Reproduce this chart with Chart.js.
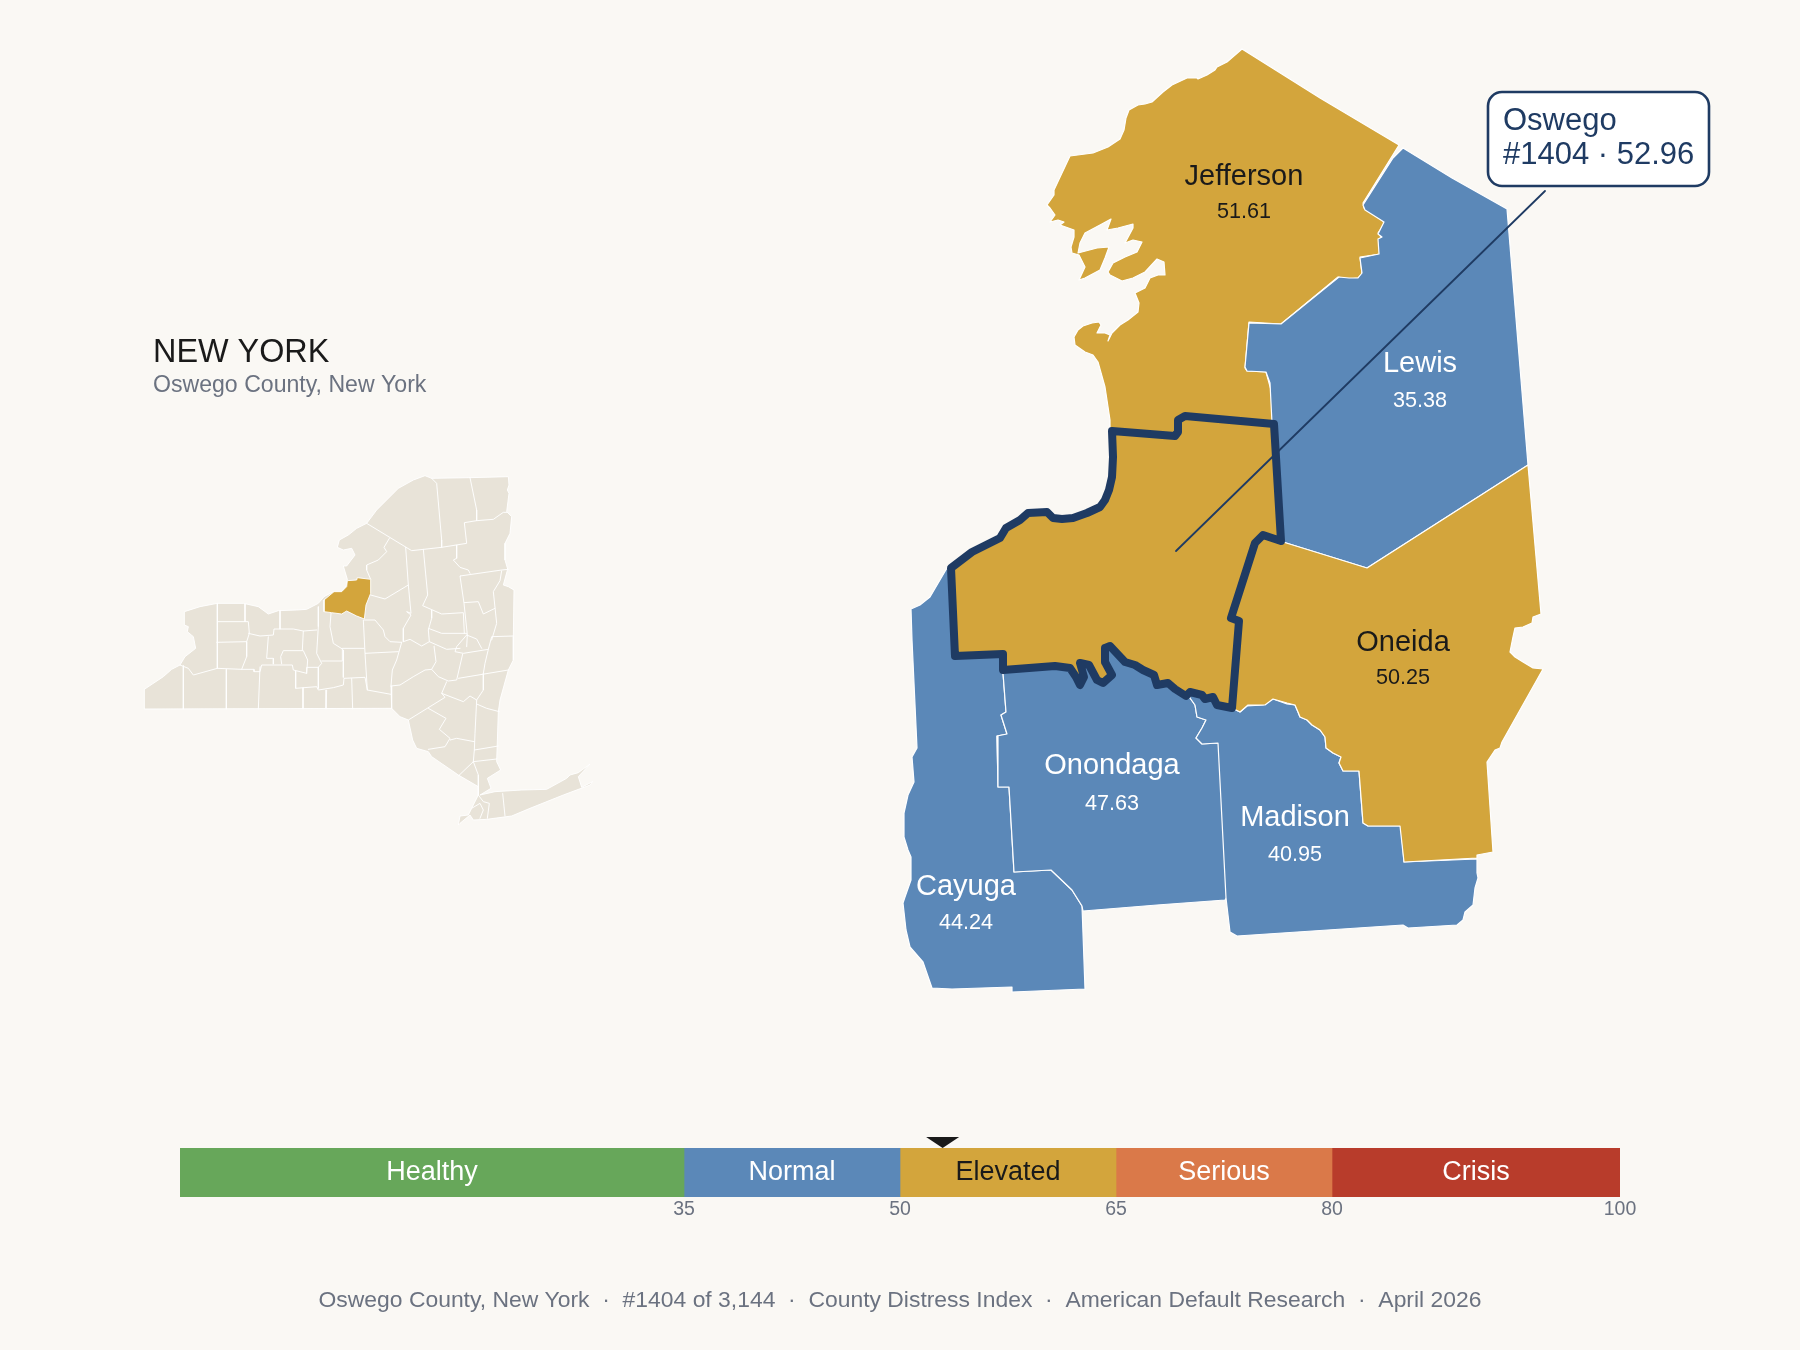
<!DOCTYPE html>
<html><head><meta charset="utf-8"><title>Oswego County, New York</title>
<script src="https://cdn.jsdelivr.net/npm/chart.js@4/dist/chart.umd.min.js"></script>
<style>
html,body{margin:0;padding:0;background:#faf8f4;width:1800px;height:1350px;overflow:hidden}
canvas{position:absolute;left:0}
#map{top:0}
#bar{top:1100px}
</style></head><body>
<canvas id="map" width="1800" height="1350"></canvas>
<canvas id="bar" width="1800" height="140"></canvas>
<script>
// ---------- values ----------
const countyNames = ['Jefferson','Lewis','Oneida','Madison','Onondaga','Cayuga'];
const countyScores = ['51.61','35.38','50.25','40.95','47.63','44.24'];
const focusName = 'Oswego';
const focusRank = '#1404';
const focusScore = 52.96;
const bandNames = ['Healthy','Normal','Elevated','Serious','Crisis'];
const bandWidths = [35,15,15,15,20];
const bandTicks = [35,50,65,80,100];
const titleText = 'NEW YORK';
const subtitleText = 'Oswego County, New York';
const footerText = 'Oswego County, New York  ·  #1404 of 3,144  ·  County Distress Index  ·  American Default Research  ·  April 2026';

// ---------- county outlines (map units) ----------
const jeffersonShape = [[1242,49],[1320,98],[1399,145],[1363,203],[1364,208],[1383,221],[1384,224],[1378,233],[1381,237],[1379,243],[1380,254],[1360,257],[1362,274],[1358,278],[1348,279],[1338,277],[1281,324],[1249,322],[1245,368],[1247,371],[1266,372],[1271,390],[1274,424],[1270,480],[1110,480],[1110,420],[1105,387],[1098,362],[1093,355],[1085,352],[1075,345],[1074,337],[1078,330],[1083,326],[1092,323],[1099,322],[1101,325],[1097,333],[1105,333],[1110,335],[1108,341],[1112,333],[1120,325],[1128,320],[1138,312],[1139,303],[1135,293],[1145,288],[1150,278],[1158,275],[1165,275],[1164,262],[1157,259],[1145,272],[1133,278],[1122,281],[1110,275],[1108,272],[1113,263],[1125,257],[1137,252],[1142,242],[1133,240],[1125,243],[1133,228],[1133,224],[1118,228],[1107,230],[1111,219],[1100,225],[1085,233],[1080,243],[1078,253],[1097,248],[1109,247],[1105,258],[1100,270],[1085,278],[1079,280],[1085,267],[1079,255],[1072,253],[1071,247],[1074,237],[1074,230],[1060,225],[1064,222],[1058,220],[1050,222],[1055,215],[1050,208],[1047,205],[1054,195],[1054,190],[1062,173],[1070,156],[1093,153],[1108,147],[1120,139],[1124,130],[1126,118],[1129,110],[1138,105],[1145,104],[1152,102],[1163,92],[1172,85],[1187,78],[1197,78],[1198,79],[1207,75],[1215,70],[1217,67],[1227,62],[1242,49]];
const lewisShape = [[1403,148],[1452,178],[1507,209],[1528,465],[1367,568],[1283,542],[1272,423],[1270,383],[1266,372],[1247,371],[1245,367],[1249,323],[1281,324],[1339,277],[1349,278],[1358,278],[1362,273],[1360,258],[1379,254],[1378,239],[1382,237],[1378,234],[1384,222],[1365,210],[1363,205],[1393,158],[1403,148]];
const oneidaShape = [[1231,618],[1255,543],[1263,535],[1283,542],[1367,568],[1528,465],[1541,614],[1533,617],[1532,623],[1523,627],[1515,628],[1513,637],[1510,652],[1515,657],[1523,662],[1533,668],[1543,669],[1502,742],[1500,748],[1495,750],[1487,762],[1493,852],[1477,855],[1477,858],[1404,862],[1400,826],[1368,826],[1363,823],[1359,771],[1343,771],[1339,763],[1341,757],[1333,753],[1326,748],[1325,737],[1320,730],[1312,725],[1307,720],[1300,717],[1298,712],[1295,705],[1287,703],[1273,699],[1265,705],[1248,705],[1240,712],[1232,708],[1231,618]];
const madisonShape = [[1232,690],[1232,708],[1240,712],[1247,706],[1263,705],[1273,699],[1287,704],[1295,705],[1298,712],[1300,717],[1307,720],[1312,725],[1320,730],[1325,737],[1326,748],[1333,753],[1341,757],[1339,763],[1343,771],[1359,771],[1363,823],[1368,826],[1401,826],[1404,862],[1477,859],[1477,873],[1478,878],[1475,888],[1473,905],[1465,912],[1463,920],[1457,925],[1408,928],[1403,925],[1237,936],[1230,932],[1226,898],[1218,743],[1202,744],[1196,738],[1202,728],[1206,720],[1197,717],[1195,705],[1190,698],[1190,680],[1232,690]];
const onondagaShape = [[1003,660],[1003,673],[1006,712],[1001,715],[1007,734],[997,736],[998,787],[1009,787],[1014,872],[1051,870],[1072,890],[1082,906],[1083,911],[1157,905],[1225,900],[1227,897],[1219,743],[1202,744],[1196,738],[1202,728],[1206,720],[1197,717],[1195,705],[1190,698],[1175,680],[1110,650],[1003,660]];
const cayugaShape = [[960,600],[1003,660],[1003,673],[1006,712],[1001,715],[1007,734],[997,736],[998,787],[1009,787],[1014,872],[1051,870],[1072,890],[1082,906],[1085,989],[1012,992],[1012,987],[952,989],[932,988],[923,962],[910,947],[906,930],[903,903],[905,897],[911,880],[911,857],[908,850],[904,837],[904,813],[908,795],[914,782],[912,757],[917,748],[912,640],[911,609],[920,605],[930,597],[947,568],[960,600]];
const oswegoShape = [[1112,431],[1175,436],[1178,432],[1178,420],[1185,416],[1274,424],[1281,541],[1263,535],[1255,543],[1231,618],[1239,621],[1232,708],[1217,705],[1213,697],[1205,699],[1202,695],[1190,692],[1186,696],[1175,689],[1168,683],[1157,685],[1154,675],[1143,670],[1135,665],[1125,662],[1110,646],[1105,648],[1105,662],[1112,675],[1103,683],[1097,680],[1089,665],[1080,663],[1084,677],[1080,685],[1076,677],[1070,668],[1055,666],[1003,670],[1003,654],[955,656],[951,568],[972,552],[1000,538],[1006,528],[1020,520],[1028,513],[1047,512],[1053,518],[1062,519],[1073,518],[1087,513],[1100,507],[1105,500],[1109,490],[1112,477],[1113,457],[1112,431]];
const leaderLine = [[1176,551],[1545,191]];

// ---------- locator map (inset units) ----------
const stateShape = [[43,688],[100,650],[125,628],[150,615],[165,590],[197,565],[190,530],[172,515],[175,500],[163,495],[163,455],[210,440],[262,430],[340,430],[385,440],[415,462],[445,452],[500,450],[530,448],[565,430],[582,410],[610,395],[635,395],[650,375],[652,358],[640,318],[650,318],[675,285],[665,265],[640,270],[622,262],[628,240],[655,225],[680,205],[710,190],[740,150],[805,85],[850,60],[885,47],[905,55],[1020,53],[1135,50],[1137,75],[1132,90],[1137,100],[1130,155],[1145,170],[1140,220],[1125,250],[1125,300],[1133,327],[1120,375],[1135,380],[1152,390],[1150,530],[1150,600],[1135,630],[1110,720],[1105,755],[1100,905],[1112,930],[1072,955],[1083,985],[1050,1005],[1095,995],[1175,990],[1250,988],[1310,955],[1320,945],[1345,938],[1380,912],[1345,950],[1355,982],[1388,965],[1380,975],[1300,1005],[1200,1045],[1145,1068],[1070,1078],[1030,1080],[1020,1065],[990,1090],[985,1095],[990,1068],[1015,1065],[1025,1045],[1045,1005],[1045,980],[985,945],[905,890],[895,875],[860,865],[848,840],[835,780],[810,770],[785,745],[43,747],[43,688]];
const stateFocusShape = [[582,420],[582,455],[605,458],[635,462],[650,453],[680,468],[703,477],[708,435],[722,400],[722,358],[682,353],[680,360],[652,362],[650,380],[635,395],[612,395],[582,420]];
const stateCountyLines = [
[[160,617],[160,747]],[[289,628],[289,747]],[[390,620],[385,747]],[[519,683],[519,747]],[[590,690],[588,747]],[[665,655],[668,747]],
[[150,615],[175,625],[190,645],[262,625],[335,628],[372,628],[372,635],[390,635],[395,615],[487,615],[490,630],[530,640],[530,622],[565,622]],
[[497,632],[497,685],[560,680],[565,690],[610,683],[640,675],[642,655],[705,652],[712,690],[783,703]],
[[262,430],[262,625]],[[262,485],[355,485],[358,520],[350,545],[260,547]],[[345,432],[345,485]],
[[355,520],[390,528],[430,525],[432,507],[490,507],[520,513],[560,510]],[[350,545],[350,590],[335,628]],[[450,452],[450,507]],
[[415,530],[410,595],[430,595],[430,612]],[[455,612],[452,590],[460,572],[520,572],[533,600],[530,640]],[[520,513],[517,570]],
[[565,440],[565,500],[560,580],[575,610],[565,622],[565,685]],[[575,603],[637,603],[637,565],[702,565]],[[637,567],[610,550],[600,500],[603,460]],[[640,570],[640,652]],
[[700,480],[705,580],[712,690]],[[705,580],[805,575]],[[783,678],[785,745]],
[[703,480],[735,480],[760,510],[765,530],[780,545],[815,547]],[[815,547],[800,600],[787,630],[783,678]],
[[722,405],[765,417],[835,375],[827,262]],[[835,375],[843,460],[830,455],[843,465],[820,505],[820,545]],
[[710,190],[845,272],[935,262],[1010,250],[1003,188],[1040,182],[1090,178],[1120,157],[1130,157]],
[[905,55],[920,70],[935,240],[935,262]],[[1020,53],[1040,150],[1040,182]],
[[778,235],[762,262],[770,275],[745,300],[710,315],[710,330],[722,358]],
[[880,268],[893,405],[878,437],[935,462],[1000,458],[1003,520]],[[980,255],[980,295],[970,300],[990,322],[1015,330],[1020,340]],
[[990,348],[1115,330],[1135,328]],[[990,348],[1002,430],[1012,525],[1010,560]],[[1002,428],[1045,425],[1060,462],[1095,445]],
[[1115,332],[1110,362],[1090,395],[1100,490],[1085,540]],[[905,450],[905,475],[895,510],[898,545],[875,558],[840,538],[820,545]],
[[895,505],[935,520],[1010,520]],[[898,545],[950,568],[990,565]],[[1010,525],[1040,537],[1055,565]],
[[1010,525],[980,560],[975,575],[1000,580],[1075,568],[1085,530],[1150,528]],[[1075,568],[1065,610],[1060,640],[1060,690],[1040,720]],
[[912,558],[918,605],[905,628],[885,630],[850,650],[810,675],[783,678]],[[905,628],[925,650],[955,663],[980,660],[998,582]],[[985,655],[1135,630]],
[[950,665],[935,700],[1000,725],[1020,708],[1040,720],[1035,820],[1033,870],[1030,905]],[[1040,732],[1070,745],[1108,755]],
[[835,780],[945,712],[935,700]],[[895,745],[948,775],[928,808],[960,835],[945,860],[895,868]],[[960,840],[980,835],[1033,845]],
[[1033,870],[1105,858]],[[1030,905],[1100,897]],[[1030,905],[985,948]],[[1030,905],[1045,945],[1045,1005]],
[[1118,1000],[1125,1068]],[[1045,1005],[1060,1025],[1078,1030],[1072,1075]],[[1025,1045],[1050,1030],[1060,1050],[1050,1075]]
];

// ---------- styling ----------
const BG='#faf8f4', GOLD='#d3a53c', BLUE='#5b88b8', NAVY='#1f3b63', INK='#1a1a1a', GREY='#6b7280', LAND='#e8e3d8';
const FONT='"Liberation Sans", Arial, sans-serif';
const bandColors=['#67a75a',BLUE,GOLD,'#da7949','#b83c2b'];
const bandInk=['#ffffff','#ffffff',INK,'#ffffff','#ffffff'];
const labelAnchors=[[1244,185,218],[1420,372,407],[1403,651,684],[1295,826,861],[1112,774,810],[966,895,929]];
const labelInk=[INK,'#ffffff',INK,'#ffffff','#ffffff','#ffffff'];

const pts=a=>a.map(p=>({x:p[0],y:p[1]}));
const shape=(a,fillCol,line,width)=>({data:pts(a),showLine:true,fill:'shape',backgroundColor:fillCol,borderColor:line,borderWidth:width,pointRadius:0,pointHoverRadius:0,tension:0,borderJoinStyle:'round',borderCapStyle:'round',xAxisID:'x',yAxisID:'y'});
const insetShape=(a,fillCol)=>({...shape(a,fillCol,'rgba(255,255,255,0.9)',1),xAxisID:'ix',yAxisID:'iy'});
const stroke=(a,col,width,xa,ya)=>({data:pts(a),showLine:true,fill:false,borderColor:col,borderWidth:width,pointRadius:0,pointHoverRadius:0,tension:0,borderJoinStyle:'round',borderCapStyle:'round',xAxisID:xa,yAxisID:ya});

const layers=[
 insetShape(stateShape,LAND),
 ...stateCountyLines.map(l=>stroke(l,'rgba(255,255,255,0.95)',1,'ix','iy')),
 insetShape(stateFocusShape,GOLD),
 shape(cayugaShape,BLUE,'#ffffff',1.2),
 shape(onondagaShape,BLUE,'#ffffff',1.2),
 shape(madisonShape,BLUE,'#ffffff',1.2),
 shape(jeffersonShape,GOLD,'#ffffff',1.2),
 shape(lewisShape,BLUE,'#ffffff',1.2),
 shape(oneidaShape,GOLD,'#ffffff',1.2),
 shape(oswegoShape,GOLD,NAVY,8),
 stroke(leaderLine,NAVY,1.8,'x','y')
];
layers.forEach((d,i)=>{d.order=layers.length-i;});

const hidden=(min,max,reverse)=>({type:'linear',display:false,min,max,reverse:!!reverse,offset:false});

const text=(ctx,s,x,y,font,col,align)=>{ctx.font=font;ctx.fillStyle=col;ctx.textAlign=align||'left';ctx.textBaseline='alphabetic';ctx.fillText(s,x,y);};

const mapText={id:'mapText',afterDatasetsDraw(chart){
  const c=chart.ctx;c.save();
  countyNames.forEach((n,i)=>{
    const [x,y1,y2]=labelAnchors[i];
    text(c,n,x,y1,`29px ${FONT}`,labelInk[i],'center');
    text(c,countyScores[i],x,y2,`21.6px ${FONT}`,labelInk[i],'center');
  });
  c.beginPath();c.roundRect(1488,92,221,94,14);c.fillStyle='#ffffff';c.fill();c.lineWidth=2.6;c.strokeStyle=NAVY;c.stroke();
  text(c,focusName,1503,130,`31px ${FONT}`,NAVY);
  text(c,`${focusRank} · ${focusScore}`,1503,164,`31px ${FONT}`,NAVY);
  text(c,titleText,153,362,`32.4px ${FONT}`,INK);
  text(c,subtitleText,153,392,`23.1px ${FONT}`,GREY);
  text(c,footerText,900,1307,`22.9px ${FONT}`,GREY,'center');
  c.restore();
}};

new Chart(document.getElementById('map'),{type:'scatter',data:{datasets:layers},plugins:[mapText],options:{
  responsive:false,animation:false,events:[],
  layout:{padding:0},clip:false,
  plugins:{legend:{display:false},tooltip:{enabled:false},title:{display:false}},
  scales:{x:hidden(0,1800),y:hidden(0,1350,true),ix:hidden(-390,5010),iy:hidden(-1380,2670,true)}
}});

const barText={id:'barText',afterDatasetsDraw(chart){
  const c=chart.ctx;c.save();
  const a=chart.chartArea;
  let from=0;
  bandNames.forEach((n,i)=>{
    const x=chart.scales.x.getPixelForValue(from+bandWidths[i]/2);
    text(c,n,x,a.top+32,`27px ${FONT}`,bandInk[i],'center');
    from+=bandWidths[i];
  });
  const mx=chart.scales.x.getPixelForValue(focusScore);
  c.beginPath();c.moveTo(mx-16.5,a.top-11);c.lineTo(mx+16.5,a.top-11);c.lineTo(mx,a.top);c.closePath();c.fillStyle=INK;c.fill();
  c.restore();
}};

new Chart(document.getElementById('bar'),{type:'bar',
 data:{labels:['Index'],datasets:bandNames.map((n,i)=>({label:n,data:[bandWidths[i]],backgroundColor:bandColors[i],borderWidth:0,barPercentage:1,categoryPercentage:1}))},
 plugins:[barText],
 options:{indexAxis:'y',responsive:false,animation:false,events:[],
  layout:{padding:{left:180,right:180,top:48,bottom:0}},
  plugins:{legend:{display:false},tooltip:{enabled:false}},
  scales:{
   y:{stacked:true,display:false},
   x:{stacked:true,type:'linear',min:0,max:100,position:'bottom',
      afterFit(s){s.height=43;},
      afterBuildTicks(s){s.ticks=bandTicks.map(v=>({value:v}));},
      grid:{display:false,drawTicks:false,tickLength:0},border:{display:false},
      ticks:{autoSkip:false,maxRotation:0,minRotation:0,padding:1,color:GREY,font:{family:'"Liberation Sans"',size:19.5}}}
  }}
});
</script></body></html>
